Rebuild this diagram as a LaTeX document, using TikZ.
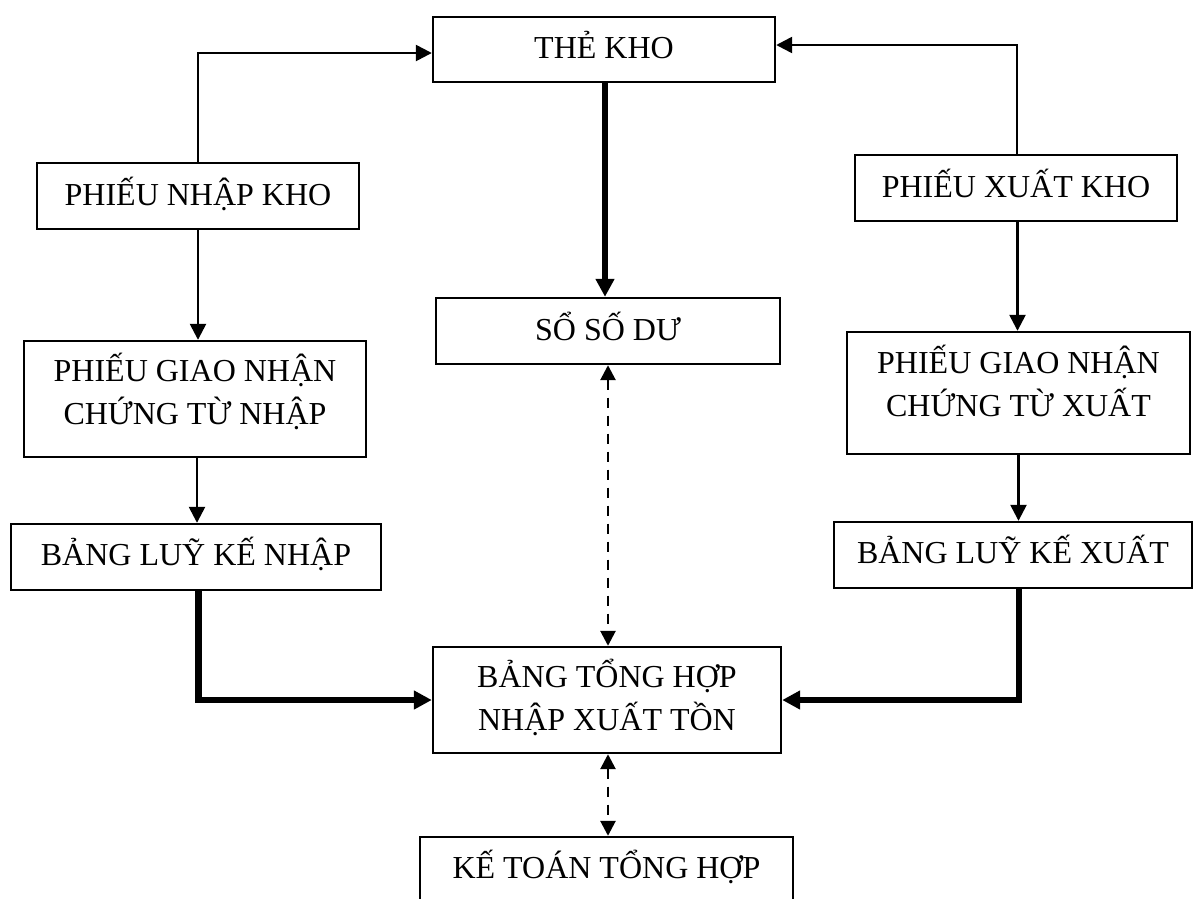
\documentclass[tikz,border=0pt]{standalone}
\usepackage{fontspec}
\setmainfont{Liberation Serif}
\usetikzlibrary{arrows.meta}
\begin{document}
\begin{tikzpicture}[x=1pt,y=-1pt,
  box/.style={draw, rectangle, line width=2.4pt, inner sep=0pt},
  lbl/.style={anchor=base, inner sep=0pt, font=\fontsize{32}{43}\selectfont},
  thinarrow/.style={line width=2.5pt, -{Triangle[length=16pt,width=16pt]}},
  thickarrow/.style={line width=6.5pt, -{Triangle[length=18pt,width=18pt]}},
  dasharrow/.style={line width=2.7pt, dash pattern=on 10pt off 8pt,
    {Triangle[length=15pt,width=15pt]}-{Triangle[length=15pt,width=15pt]}}]
\clip (0,0) rectangle (1194,898);
\fill[white] (0,0) rectangle (1194,898);

% boxes
\node[box, minimum width=342pt, minimum height=65pt]  (tk)   at (604,49.5) {};
\node[box, minimum width=321.5pt, minimum height=66pt] (pnk) at (198,196) {};
\node[box, minimum width=322pt, minimum height=66pt]  (pxk)  at (1016,188) {};
\node[box, minimum width=344pt, minimum height=66pt]  (ssd)  at (608,331) {};
\node[box, minimum width=341.5pt, minimum height=116pt] (gn1) at (195,399) {};
\node[box, minimum width=343pt, minimum height=122pt] (gn2)  at (1018.5,393) {};
\node[box, minimum width=369.5pt, minimum height=66pt] (lk1) at (196,557) {};
\node[box, minimum width=358pt, minimum height=66pt]  (lk2)  at (1013,555) {};
\node[box, minimum width=348pt, minimum height=106pt] (bth)  at (607,700) {};
\node[box, minimum width=373pt, minimum height=110pt] (ktt)  at (606.5,892) {};

% labels
\node[lbl] (tk-t)   at (604,58)    {THẺ KHO};
\node[lbl] (pnk-t)  at (198,205)   {PHIẾU NHẬP KHO};
\node[lbl] (pxk-t)  at (1016,197)  {PHIẾU XUẤT KHO};
\node[lbl] (ssd-t)  at (608,340)   {SỔ SỐ DƯ};
\node[lbl] (gn1-a)  at (195,381)   {PHIẾU GIAO NHẬN};
\node[lbl] (gn1-b)  at (195,424)   {CHỨNG TỪ NHẬP};
\node[lbl] (gn2-a)  at (1018.5,373) {PHIẾU GIAO NHẬN};
\node[lbl] (gn2-b)  at (1018.5,416) {CHỨNG TỪ XUẤT};
\node[lbl] (lk1-t)  at (196,565)   {BẢNG LUỸ KẾ NHẬP};
\node[lbl] (lk2-t)  at (1013,563)  {BẢNG LUỸ KẾ XUẤT};
\node[lbl] (bth-a)  at (607,687)   {BẢNG TỔNG HỢP};
\node[lbl] (bth-b)  at (607,730)   {NHẬP XUẤT TỒN};
\node[lbl] (ktt-t)  at (606.5,878) {KẾ TOÁN TỔNG HỢP};

% thin flows
\draw[thinarrow] (pnk.north) |- ([yshift=-3.5pt]tk.west);
\draw[thinarrow] ([xshift=1pt]pxk.north) |- ([yshift=4.5pt]tk.east);
\draw[thinarrow] (pnk.south) -- (pnk.south |- gn1.north);
\draw[thinarrow] ([xshift=2pt]gn1.south) -- ([xshift=2pt]gn1.south |- lk1.north);
\draw[thinarrow] ([xshift=1.5pt]pxk.south) -- ([xshift=1.5pt]pxk.south |- gn2.north);
\draw[thinarrow] (gn2.south) -- (gn2.south |- lk2.north);

% thick flows
\draw[thickarrow] ([xshift=1pt]tk.south) -- ([xshift=1pt]tk.south |- ssd.north);
\draw[thickarrow] ([xshift=2.5pt]lk1.south) |- (bth.west);
\draw[thickarrow] ([xshift=6pt]lk2.south) |- (bth.east);

% reconciliation links
\draw[dasharrow] (ssd.south) -- (ssd.south |- bth.north);
\draw[dasharrow] ([xshift=1pt]bth.south) -- ([xshift=1pt]bth.south |- ktt.north);
\end{tikzpicture}
\end{document}
